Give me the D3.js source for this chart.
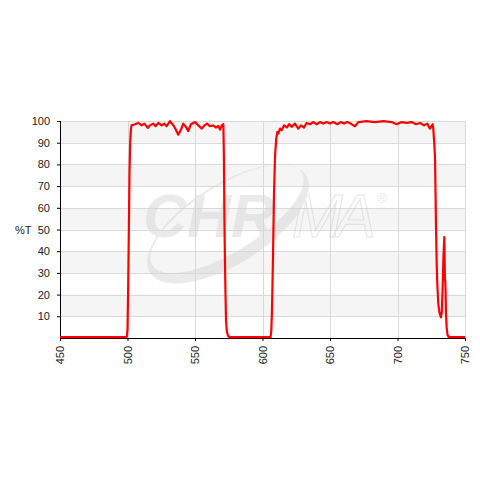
<!DOCTYPE html>
<html>
<head>
<meta charset="utf-8">
<style>
  body { margin: 0; background: #fff; }
  svg text { font-family: "Liberation Sans", Arial, sans-serif; }
</style>
</head>
<body>
<svg></svg>
<script src="https://cdnjs.cloudflare.com/ajax/libs/d3/7.8.5/d3.min.js"></script>
<script>
const width = 480;
const height = 480;

// wavelength (nm) and transmission (%T)
const wavelength = [
  450, 499, 499.5, 500, 500.5, 501, 501.5, 502, 502.5, 503,
  505.5, 508, 510.5, 512.5, 515, 516.7, 519, 520.8, 522.8, 525.3,
  527.3, 529, 531.5, 534, 536, 537.6, 539.4, 541.3, 543.3, 545,
  547, 550, 552.5, 555, 557, 559, 561, 563.5, 565.5, 567.3,
  568.5, 569.8, 571, 571.4, 571.8, 572.2, 572.6, 573, 573.6, 574.5,
  575.5, 606, 606.5, 607, 607.8, 608.5, 609.3, 610.2, 611, 611.7,
  613, 614.2, 616, 618, 619.8, 621.6, 624, 626.5, 628.5, 630.7,
  632.7, 635.2, 637.6, 640.2, 642.6, 645, 647.5, 650, 652.4, 655.4,
  657.9, 660.4, 662.8, 665.3, 668.5, 671, 677, 683.3, 689.5, 695.7,
  699.4, 703, 706.8, 710.5, 713.7, 716.7, 719.6, 722, 724, 726,
  726.5, 727.2, 727.8, 728.2, 728.5, 729, 729.5, 730.2, 731, 731.6,
  732.2, 732.8, 733.3, 733.7, 734.2, 734.7, 735.1, 735.5, 735.9, 736.4,
  737, 738, 750
];
const transmission = [
  0.4, 0.4, 0.6, 4, 23, 50, 77, 90, 96, 98,
  98.5, 99.1, 98, 98.8, 96.8, 98, 98.8, 97.6, 99.1, 98,
  98.8, 97.6, 99.9, 98, 95.7, 93.7, 95.7, 98.8, 97.3, 95.4,
  98.5, 99.5, 98, 96.5, 98, 98.8, 97.6, 98, 97, 97.7,
  96, 98, 98.5, 84, 55, 35, 20, 8, 3, 1,
  0.4, 0.4, 3, 12, 38, 66, 84, 92, 95, 94.2,
  96.5, 95.7, 98, 97, 98.5, 97.3, 98.8, 96.5, 98, 97,
  99.1, 98.5, 99.5, 98.5, 99.5, 98.8, 99.5, 98.8, 99.5, 98.5,
  99.5, 98.8, 99.5, 98.8, 97.6, 99.5, 99.9, 99.5, 99.9, 99.5,
  98.5, 99.5, 99.1, 99.5, 98.5, 99.1, 98, 98.8, 96.5, 98.5,
  96.5, 90, 83, 66, 52, 35, 24.5, 16, 12, 10.5,
  9.5, 12, 20, 30, 40, 46.5, 28, 25, 12, 5,
  1.5, 0.4, 0.4
];
const xTicks = [450, 500, 550, 600, 650, 700, 750];
const yTicks = [10, 20, 30, 40, 50, 60, 70, 80, 90, 100];
const yLabel = "%T";

const plot = { left: 60, right: 465, top: 121, bottom: 338 };

const svg = d3.select("svg").attr("width", width).attr("height", height);

const x = d3.scaleLinear().domain([450, 750]).range([plot.left, plot.right]);
const y = d3.scaleLinear().domain([0, 100]).range([plot.bottom, plot.top]);

// alternating bands
const bands = d3.range(0, 100, 10).filter(v => (v / 10) % 2 === 1);
svg.append("g").selectAll("rect").data(bands).enter().append("rect")
  .attr("x", plot.left).attr("width", plot.right - plot.left)
  .attr("y", d => y(d + 10)).attr("height", d => y(d) - y(d + 10))
  .attr("fill", "#f5f5f5");

// grid
const grid = svg.append("g").attr("stroke", "#d9d9d9").attr("stroke-width", 1);
grid.selectAll(".h").data(yTicks).enter().append("line")
  .attr("x1", plot.left).attr("x2", plot.right)
  .attr("y1", d => Math.round(y(d)) + 0.5).attr("y2", d => Math.round(y(d)) + 0.5);
grid.selectAll(".v").data(xTicks.slice(1)).enter().append("line")
  .attr("y1", plot.top).attr("y2", plot.bottom)
  .attr("x1", d => Math.round(x(d)) + 0.5).attr("x2", d => Math.round(x(d)) + 0.5);

// watermark
const wm = svg.append("g").attr("opacity", 0.5);
wm.append("path")
  .attr("transform", "translate(228,224) rotate(-32)")
  .attr("fill-rule", "evenodd")
  .attr("fill", "#d6d6d6")
  .attr("d", "M-92,0 A92,40 0 1,0 92,0 A92,40 0 1,0 -92,0 Z M-86,-6 A88,33 0 1,0 90,-4 A88,33 0 1,0 -86,-6 Z");
wm.append("text")
  .attr("x", 143).attr("y", 237)
  .attr("font-size", 61).attr("font-weight", "bold").attr("font-style", "italic")
  .attr("fill", "#d6d6d6").attr("textLength", 132).text("CHR");
wm.append("text")
  .attr("x", 292).attr("y", 237)
  .attr("font-size", 61).attr("font-style", "italic")
  .attr("fill", "none").attr("stroke", "#d0d0d0").attr("stroke-width", 1.2)
  .attr("textLength", 84).text("MA");
wm.append("text")
  .attr("x", 377).attr("y", 203)
  .attr("font-size", 13).attr("fill", "#d0d0d0").text("®");

// axes
const yAxis = d3.axisLeft(y).tickValues(yTicks).tickSize(3).tickPadding(7);
const gy = svg.append("g").attr("transform", `translate(${plot.left},0)`).call(yAxis);
gy.select(".domain").remove();
gy.selectAll(".tick line").attr("stroke", "#000");
gy.selectAll(".tick text").attr("font-size", 11).attr("fill", "#222")
  .style("font-family", "'Liberation Sans', Arial, sans-serif");

const xAxis = d3.axisBottom(x).tickValues(xTicks).tickSize(3).tickPadding(6);
const gx = svg.append("g").attr("transform", `translate(0,${plot.bottom})`).call(xAxis);
gx.select(".domain").remove();
gx.selectAll(".tick line").attr("stroke", "#000");
gx.selectAll(".tick text")
  .attr("font-size", 11).attr("fill", "#222")
  .style("font-family", "'Liberation Sans', Arial, sans-serif")
  .attr("transform", "rotate(-90)")
  .attr("text-anchor", "end")
  .attr("x", -8).attr("y", 0).attr("dy", "0.35em");

svg.append("line")
  .attr("x1", plot.left + 0.5).attr("x2", plot.left + 0.5)
  .attr("y1", plot.top).attr("y2", plot.bottom)
  .attr("stroke", "#000");
svg.append("line")
  .attr("x1", plot.left).attr("x2", plot.right)
  .attr("y1", plot.bottom + 0.5).attr("y2", plot.bottom + 0.5)
  .attr("stroke", "#000");

svg.append("text")
  .attr("x", 15).attr("y", 230).attr("dy", "0.35em")
  .attr("font-size", 11).attr("fill", "#222").text(yLabel);

// trace
const line = d3.line().x((d, i) => x(wavelength[i])).y(d => y(d));
svg.append("path")
  .datum(transmission)
  .attr("fill", "none")
  .attr("stroke", "#ff0000")
  .attr("stroke-width", 2.2)
  .attr("stroke-linejoin", "round")
  .attr("d", line);
</script>
</body>
</html>
